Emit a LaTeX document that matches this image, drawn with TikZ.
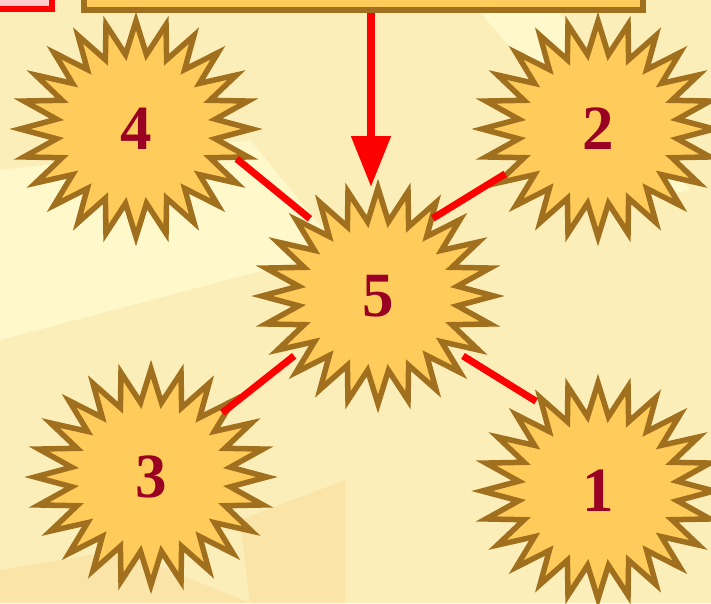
\documentclass[tikz,border=0pt]{standalone}
\usepackage{fontspec}
\setmainfont{Liberation Serif}
\usetikzlibrary{arrows.meta}

\definecolor{paper}{RGB}{252,238,184}
\definecolor{paperlight}{RGB}{255,248,202}
\definecolor{paperdark}{RGB}{250,228,168}
\definecolor{burstfill}{RGB}{255,204,92}
\definecolor{burstline}{RGB}{160,112,30}
\definecolor{digitred}{RGB}{153,0,34}
\definecolor{pinkfill}{RGB}{255,204,204}

\tikzset{
  burst/.style={fill=burstfill, draw=burstline, line width=5.5pt, line join=miter},
  digit/.style={inner sep=0pt, text=digitred, font=\fontsize{63}{63}\selectfont\bfseries},
  link/.style={draw=red, line width=7pt},
  pointer/.style={draw=red, line width=8pt, -{Triangle[width=38pt,length=51pt]}},
  topbox/.style={draw=burstline, fill=burstfill, line width=6pt, minimum width=559pt, minimum height=79pt},
  redbox/.style={draw=red, fill=pinkfill, line width=6pt, minimum width=104pt, minimum height=78pt}
}

% 24-point star round a point, elliptic
\newcommand{\sunburst}[1]{%
  \begin{scope}[shift={(#1)}]
    \filldraw[burst] (-90:116 and 108)
      \foreach \k in {0,...,22}{ -- ({-82.5+15*\k}:80 and 75) -- ({-75+15*\k}:116 and 108)}
      -- (262.5:80 and 75) -- cycle;
  \end{scope}}

\begin{document}
\begin{tikzpicture}[x=1pt, y=-1pt]
		\useasboundingbox (0,0) rectangle (711,603);
		% background
		\fill[paper] (0,0) rectangle (711,603);
		\fill[paperlight] (0,170) -- (250,140) -- (340,250) -- (0,340) -- cycle;
		\fill[paperlight] (470,0) -- (550,0) -- (690,190) -- (640,200) -- cycle;
		\fill[paperdark] (250,603) -- (240,520) -- (345,480) -- (345,603) -- cycle;
		\fill[paperdark] (0,570) -- (120,550) -- (250,603) -- (0,603) -- cycle;
		% boxes cut by the top edge
		\node[redbox] (lbox) at (0,-30) {};
		\node[topbox] (topq) at (363.5,-30) {};
		% stars and numbers
		\foreach \n/\p in {4/{136,129}, 2/{598,129}, 5/{378,296}, 3/{151,477}, 1/{598,491}}{
			\sunburst{\p}
			\node[digit] (s\n) at (\p) {\n};
		}
		% links to the middle star
		\draw[link] ([shift={(16.5:105)}]s4.center) -- ([shift={(228.6:103)}]s5.center);
		\draw[link] ([shift={(154.2:103)}]s2.center) -- ([shift={(-54.8:95)}]s5.center);
		\draw[link] ([shift={(-42:96)}]s3.center) -- ([shift={(144.5:103)}]s5.center);
		\draw[link] ([shift={(-124.6:109)}]s1.center) -- ([shift={(35.2:104)}]s5.center);
		% arrow from the top box
		\coordinate (tip) at (371,187);
		\draw[pointer] (topq.south -| tip) -- (tip);
	\end{tikzpicture}
\end{document}
